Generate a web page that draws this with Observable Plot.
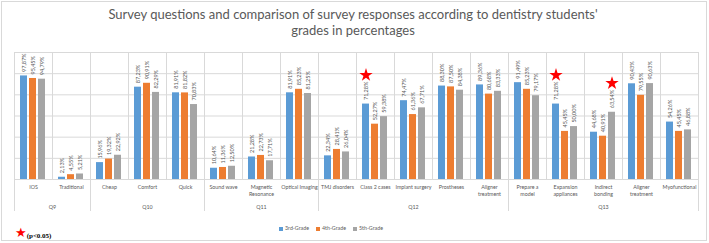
<!DOCTYPE html>
<html><head><meta charset="utf-8">
<script src="https://cdn.jsdelivr.net/npm/d3@7"></script>
<script src="https://cdn.jsdelivr.net/npm/@observablehq/plot@0.6"></script>
<style>
body{margin:0;background:#fff;font-family:Lato,sans-serif;}
#wrap{position:relative;width:709px;height:243px;overflow:hidden;}
#border{position:absolute;left:1px;top:1px;width:706px;height:240px;border:1px solid #d9d9d9;box-sizing:border-box;}
#title{position:absolute;left:0;top:6px;width:706px;text-align:center;font-size:13px;line-height:16px;color:#595959;}
#main{position:absolute;left:0;top:0;}
#axis{position:absolute;left:0;top:179px;}
#legend{position:absolute;left:279px;top:225px;display:flex;gap:7px;font-size:5.3px;color:#595959;align-items:center;}
#legend span.sw{display:inline-block;width:4px;height:4px;margin-right:2px;vertical-align:middle;}
#note{position:absolute;left:15px;top:221px;white-space:nowrap;}
#note .st{color:#ff0000;font-size:13px;font-family:"DejaVu Sans";}
#note .tx{font-family:"Liberation Serif";font-weight:bold;font-size:7px;color:#000;position:relative;top:1px;}
</style></head><body>
<div id="wrap">
  <div id="border"></div>
  <div id="title"></div>
  <div id="main"></div>
  <div id="axis"></div>
  <div id="legend"></div>
  <div id="note"><span class="st">★</span><span class="tx">(p&lt;0.05)</span></div>
</div>
<script>
const titleLines = ["Survey questions and comparison of survey responses according to dentistry students'", "grades in percentages"];
const series = ["3rd-Grade", "4th-Grade", "5th-Grade"];
const colors = ["#5B9BD5", "#ED7D31", "#A5A5A5"];
const groups = ["Q9", "Q10", "Q11", "Q12", "Q13"];
const groupSizes = [2, 3, 3, 5, 5];
const categories = ["IOS", "Traditional", "Cheap", "Comfort", "Quick", "Sound wave", "Magnetic\nResonance", "Optical Imaging",
  "TMJ disorders", "Class 2 cases", "Implant surgery", "Prostheses", "Aligner\ntreatment",
  "Prepare a\nmodel", "Expansion\nappliances", "Indirect\nbonding", "Aligner\ntreatment", "Myofunctional"];
const grade3 = [97.87, 2.13, 15.96, 87.23, 81.91, 10.64, 21.28, 81.91, 22.34, 71.28, 74.47, 88.30, 89.36, 91.49, 71.28, 44.68, 90.43, 54.26];
const grade4 = [95.45, 4.55, 19.32, 90.91, 81.82, 11.36, 22.73, 85.23, 28.41, 52.27, 61.36, 87.50, 80.68, 85.23, 45.45, 40.91, 79.55, 45.45];
const grade5 = [94.79, 5.21, 22.92, 82.29, 70.83, 12.50, 17.71, 81.25, 26.04, 59.38, 67.71, 84.38, 83.33, 79.17, 50.00, 63.54, 90.63, 46.88];
const significant = [{category: 9, series: "3rd-Grade"}, {category: 14, series: "3rd-Grade"}, {category: 15, series: "5th-Grade"}];
const yTicks = [0, 20, 40, 60, 80, 100, 120];

document.getElementById("title").innerHTML = titleLines.join("<br>");

const values = [grade3, grade4, grade5];
const keys = categories.map((c, i) => String(i));
const table = categories.flatMap((c, i) => series.map((s, j) => ({key: String(i), series: s, value: values[j][i]})));
const starRows = significant.map(d => ({key: String(d.category), series: d.series, value: values[series.indexOf(d.series)][d.category]}));
const fmt = v => d3.format(".2f")(v).replace(".", ",") + "%";
const grid = "#d9d9d9", ink = "#595959";

const main = Plot.plot({
  width: 709, height: 182, marginTop: 52, marginBottom: 3, marginLeft: 14, marginRight: 11,
  style: {background: "transparent", fontFamily: "Lato"},
  fx: {domain: keys, padding: 0, axis: null},
  x: {domain: series, paddingInner: 0.2, paddingOuter: 0.7, axis: null},
  y: {domain: [0, 120], axis: null},
  color: {domain: series, range: colors},
  marks: [
    Plot.ruleY(yTicks, {stroke: grid}),
    Plot.frame({stroke: grid}),
    Plot.barY(table, {fx: "key", x: "series", y: "value", fill: "series"}),
    Plot.text(table, {fx: "key", x: "series", y: "value", text: d => fmt(d.value), rotate: -90, textAnchor: "start", dy: -4, fontSize: 5.5, fill: ink}),
    Plot.dot(starRows, {fx: "key", x: "series", y: "value", symbol: "star", r: 4.2, fill: "#ff0000", stroke: "none", dy: -29})
  ]
});
document.getElementById("main").appendChild(main);

const bounds = [0];
groupSizes.forEach(n => bounds.push(bounds[bounds.length - 1] + n));
const groupRows = groups.map((g, i) => ({name: g, mid: (bounds[i] + bounds[i + 1]) / 2}));

const axisPlot = Plot.plot({
  width: 709, height: 32, marginTop: 0, marginBottom: 0, marginLeft: 14, marginRight: 11,
  style: {background: "transparent", fontFamily: "Lato"},
  x: {domain: [0, categories.length], axis: null},
  marks: [
    Plot.ruleX(bounds, {stroke: grid}),
    Plot.text(categories, {x: (d, i) => i + 0.5, text: d => d, frameAnchor: "top", lineAnchor: "top", dy: 5, fontSize: 5.3, lineHeight: 1.3, fill: ink}),
    Plot.text(groupRows, {x: "mid", text: "name", frameAnchor: "bottom", lineAnchor: "bottom", dy: -3, fontSize: 5.3, fill: ink})
  ]
});
document.getElementById("axis").appendChild(axisPlot);

const legend = document.getElementById("legend");
series.forEach((s, i) => {
  const item = document.createElement("div");
  item.innerHTML = `<span class="sw" style="background:${colors[i]}"></span>${s}`;
  legend.appendChild(item);
});
</script>
</body></html>
